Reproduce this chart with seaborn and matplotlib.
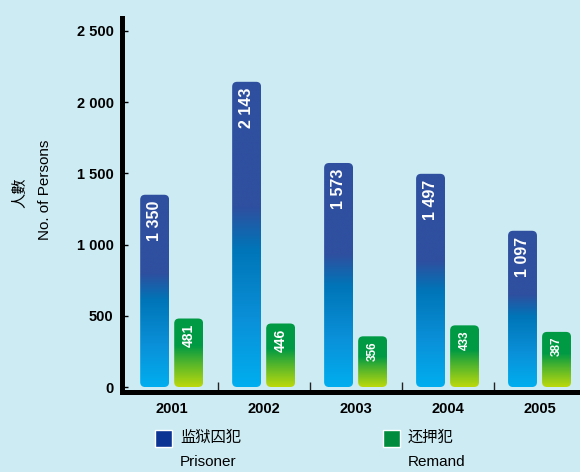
import numpy as np
import pandas as pd
import matplotlib
matplotlib.use("Agg")
import matplotlib.pyplot as plt
import seaborn as sns
from matplotlib.patches import FancyBboxPatch, Rectangle
from matplotlib.colors import LinearSegmentedColormap
from matplotlib.ticker import FixedLocator

# ---- data -------------------------------------------------------------
years = ["2001", "2002", "2003", "2004", "2005"]
prisoner = [1350, 2143, 1573, 1497, 1097]
remand = [481, 446, 356, 433, 387]
series_cn = ["监狱囚犯", "还押犯"]
series_en = ["Prisoner", "Remand"]
y_ticks = [0, 500, 1000, 1500, 2000, 2500]
y_title_cn = "人數"
y_title_en = "No. of Persons"


def spaced(v):
    return f"{int(v):,}".replace(",", " ")


# ---- style ------------------------------------------------------------
BG = "#cdebf3"
sns.set_theme(style="white")
plt.rcParams["font.family"] = ["Liberation Sans", "Noto Sans CJK SC"]

W, H = 580, 472
fig = plt.figure(figsize=(W / 100, H / 100), dpi=100, facecolor=BG)


def fx(x):
    return x / W


def fy(y):
    return 1 - y / H


ax = fig.add_axes([fx(122), fy(392), fx(580 - 122), (392 - 18) / H])
ax.set_facecolor(BG)

df = pd.DataFrame({
    "year": years * 2,
    "count": prisoner + remand,
    "series": [series_en[0]] * len(years) + [series_en[1]] * len(years),
})

sns.barplot(data=df, x="year", y="count", hue="series", width=0.74, gap=0.15,
            palette=["#2f4f9f", "#009a44"], legend=False, ax=ax)

x_lim = (-0.54, 4.44)
y_lim = (-35, 2591)
ax.set_xlim(*x_lim)
ax.set_ylim(*y_lim)

# gradient fills for the two series
cmaps = [
    LinearSegmentedColormap.from_list("prisoner", [
        (0.0, "#00aeef"), (0.22, "#0a90d8"), (0.45, "#0075b8"),
        (0.59, "#2f4f9f"), (1.0, "#2f4f9f")]),
    LinearSegmentedColormap.from_list("remand", [
        (0.0, "#bcd90c"), (0.35, "#52b52c"), (0.6, "#009a44"), (1.0, "#009a44")]),
]
grad = np.linspace(0, 1, 256).reshape(-1, 1)

# rounding radius of ~5 px expressed in data units on both axes
px_per_x = 458 / (x_lim[1] - x_lim[0])
px_per_y = 374 / (y_lim[1] - y_lim[0])
rx = 5 / px_per_x
ry = 5 / px_per_y

label_sizes = [[11.5] * 5, [10, 10, 8.5, 8.5, 8.5]]
label_gap_px = [6, 5]

for si, cont in enumerate(ax.containers):
    for bi, bar in enumerate(cont):
        x0, w, h = bar.get_x(), bar.get_width(), bar.get_height()
        bar.remove()
        shape = FancyBboxPatch((x0, 0), w, h,
                               boxstyle=f"round,pad=0,rounding_size={rx}",
                               mutation_aspect=ry / rx,
                               facecolor="none", edgecolor="none", zorder=2)
        ax.add_patch(shape)
        im = ax.imshow(grad, extent=(x0, x0 + w, 0, h), origin="lower",
                       aspect="auto", cmap=cmaps[si], zorder=2,
                       interpolation="bilinear")
        im.set_clip_path(shape)
        ax.text(x0 + w / 2, h - label_gap_px[si] / px_per_y, spaced(h),
                rotation=90, ha="center", va="top", color="white",
                fontsize=label_sizes[si][bi], fontweight="bold", zorder=3)

ax.set_xlim(*x_lim)
ax.set_ylim(*y_lim)

# ---- axes -------------------------------------------------------------
for side in ["top", "right"]:
    ax.spines[side].set_visible(False)
for side in ["left", "bottom"]:
    ax.spines[side].set_linewidth(3.6)
    ax.spines[side].set_color("black")
    ax.spines[side].set_capstyle("projecting")

ax.set_yticks(y_ticks, labels=[spaced(v) for v in y_ticks],
              fontweight="bold", fontsize=10.5)
ax.tick_params(axis="y", which="major", direction="in", length=4, width=1,
               color="black", labelcolor="black", pad=6, left=True)

ax.set_xlabel("")
ax.set_ylabel("")
ax.set_xticks(range(len(years)), labels=years, fontweight="bold", fontsize=10.5)
ax.tick_params(axis="x", which="major", length=0, pad=7, labelcolor="black")
ax.xaxis.set_minor_locator(FixedLocator([i + 0.5 for i in range(len(years) - 1)]))
ax.tick_params(axis="x", which="minor", direction="in", length=7, width=1,
               color="#222222", bottom=True)

# axis title
fig.text(fx(20), fy(193), y_title_cn, rotation=90, ha="center", va="center",
         fontsize=11, color="black")
fig.text(fx(45), fy(190), y_title_en, rotation=90, ha="center", va="center",
         fontsize=11, color="black")

# ---- legend -----------------------------------------------------------
legend_cols = ["#0b3394", "#008c3c"]
legend_x = [155, 383]
for i in range(2):
    fig.patches.append(Rectangle((fx(legend_x[i]), fy(447)), 17 / W, 17 / H,
                                 transform=fig.transFigure, facecolor=legend_cols[i],
                                 edgecolor="white", linewidth=1))
    fig.text(fx(legend_x[i] + 25), fy(438), series_cn[i], ha="left", va="center",
             fontsize=11, color="black")
    fig.text(fx(legend_x[i] + 25), fy(462), series_en[i], ha="left", va="center",
             fontsize=11, color="black")

fig.savefig("out.png", dpi=100, facecolor=BG)
